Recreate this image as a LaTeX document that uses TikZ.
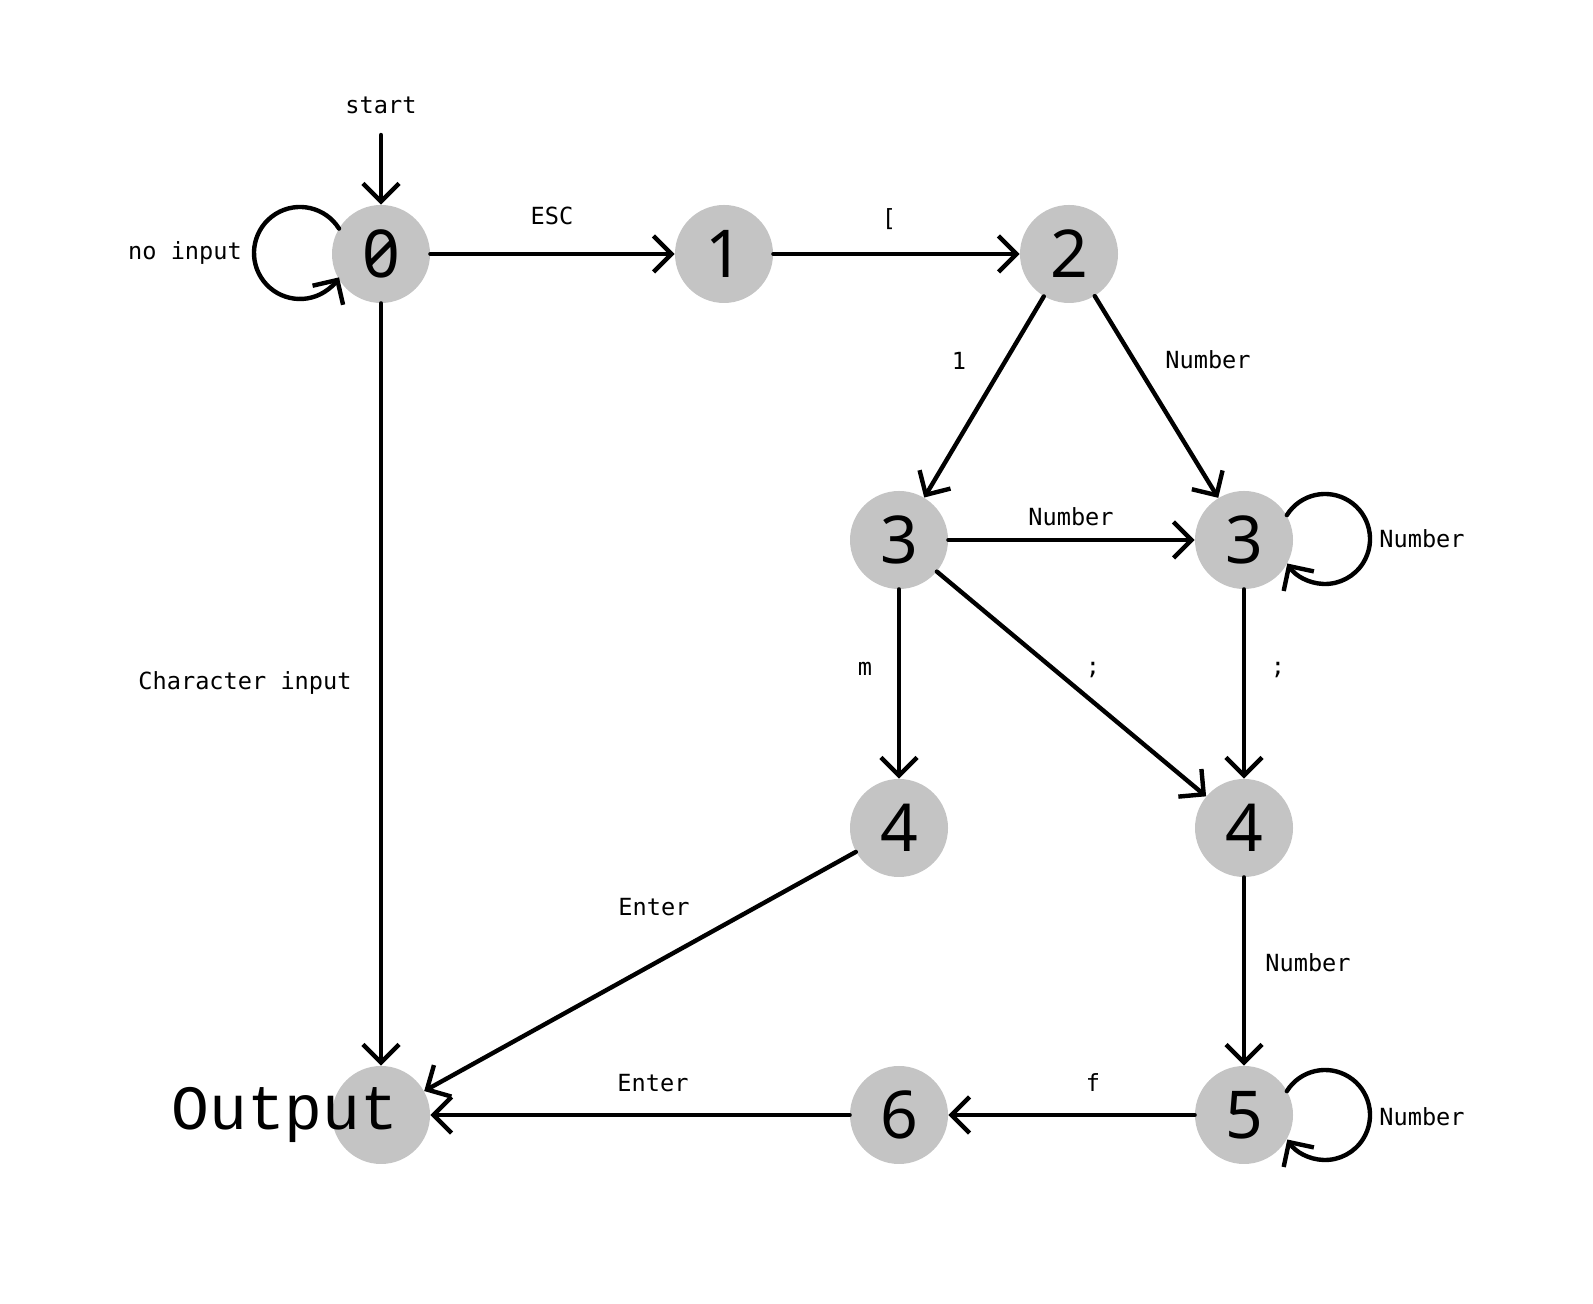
\documentclass[tikz,border=0pt]{standalone}
\usepackage{fontspec}
\setmonofont{DejaVu Sans Mono}
\newfontfamily\digitfont{Noto Sans}[RawFeature=+zero]
\newfontfamily\bigmono{Liberation Mono}
\usetikzlibrary{arrows.meta}
\definecolor{stategray}{HTML}{C4C4C4}
\begin{document}
\begin{tikzpicture}[x=0.5pt,y=0.5pt,
  state/.style={circle, fill=stategray, minimum size=49pt, inner sep=0pt,
    font=\digitfont\fontsize{33}{33}\selectfont},
  lbl/.style={font=\ttfamily\fontsize{11.8}{12}\selectfont, inner sep=0pt},
  edge/.style={line width=2.2pt, line cap=round, line join=round,
    -{Straight Barb[length=9pt,width=18pt,line width=2.2pt]}}
]
\useasboundingbox[fill=white] (0,0) rectangle (1593,1304);

% states
\node[state] (n0)  at (381,1050) {0};
\node[state] (n1)  at (724,1050) {1};
\node[state] (n2)  at (1069,1050) {2};
\node[state] (n3a) at (899,764) {3};
\node[state] (n3b) at (1244,764) {3};
\node[state] (n4a) at (899,476) {4};
\node[state] (n4b) at (1244,476) {4};
\node[state] (out) at (381,189) {};
\node[state] (n6)  at (899,189) {6};
\node[state] (n5)  at (1244,189) {5};
\node[font=\bigmono\fontsize{31.5}{32}\selectfont, inner sep=0pt] (outtxt) at (285,189) {Output};

% start arrow
\coordinate (startpt) at (381,1169);
\node[lbl] (startlbl) at (381,1199) {start};
\draw[edge] (startpt) -- (n0);

% transitions
\draw[edge] (n0) -- (n1);
\draw[edge] (n1) -- (n2);
\draw[edge] (n2) -- (n3a);
\draw[edge] (n2) -- (n3b);
\draw[edge] (n3a) -- (n3b);
\draw[edge] (n3a) -- (n4a);
\draw[edge] (n3a) -- (n4b);
\draw[edge] (n3b) -- (n4b);
\draw[edge] (n4b) -- (n5);
\draw[edge] (n5) -- (n6);
\draw[edge] (n6) -- (out);
\draw[edge] (n4a) -- (out);
\draw[edge] (n0) -- (out);

% self loops
\draw[edge] (n0) ++(-81,1) ++(32:46) arc[start angle=32, end angle=328, radius=46];
\draw[edge] (n3b) ++(81,1) ++(148:45) arc[start angle=148, end angle=-147, radius=45];
\draw[edge] (n5) ++(81,0) ++(148:45) arc[start angle=148, end angle=-147, radius=45];

% labels
\node[lbl] (lesc)  at (552,1088) {ESC};
\node[lbl] (lbr)   at (889,1085) {[};
\node[lbl] (lnoin) at (185,1051) {no input};
\node[lbl] (lone)  at (959,943) {1};
\node[lbl] (lnum1) at (1208,944) {Number};
\node[lbl] (lnum2) at (1071,787) {Number};
\node[lbl] (lnum3) at (1422,765) {Number};
\node[lbl] (lm)    at (865,635) {m};
\node[lbl] (lsc1)  at (1093,634) {;};
\node[lbl] (lsc2)  at (1278,634) {;};
\node[lbl] (lchar) at (245,621) {Character input};
\node[lbl] (lent1) at (654,397) {Enter};
\node[lbl] (lnum4) at (1308,341) {Number};
\node[lbl] (lent2) at (653,221) {Enter};
\node[lbl] (lf)    at (1093,221) {f};
\node[lbl] (lnum5) at (1422,187) {Number};
\end{tikzpicture}
\end{document}
